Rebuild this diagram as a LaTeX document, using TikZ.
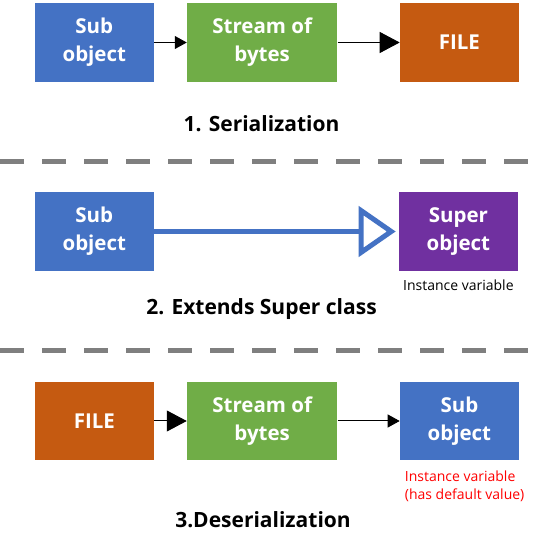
\documentclass[tikz,border=0pt]{standalone}
\usepackage{fontspec}
\setmainfont{Open Sans}
\usetikzlibrary{arrows.meta,positioning}

\definecolor{objblue}{HTML}{4472C4}
\definecolor{bytegreen}{HTML}{70AD47}
\definecolor{fileorange}{HTML}{C55A11}
\definecolor{superpurple}{HTML}{7030A0}
\definecolor{sepgray}{HTML}{7F7F7F}

\begin{document}
\begin{tikzpicture}[
    x=1pt, y=-1pt,
    box/.style={rectangle, inner sep=0pt, minimum width=119pt, minimum height=78.5pt, align=center, text=white, font=\fontsize{20.5}{28}\selectfont\bfseries},
    widebox/.style={box, minimum width=150.5pt},
    flow/.style={-{Triangle[length=12pt,width=13pt]}, line width=1pt, draw=black},
    bigflow/.style={-{Triangle[length=20pt,width=21pt]}, line width=1pt, draw=black},
    extends/.style={-{Triangle[length=37pt,width=50pt,fill=white]}, line width=5pt, draw=objblue},
    title/.style={font=\fontsize{21}{26}\selectfont\bfseries},
    note/.style={font=\fontsize{14}{18.5}\selectfont, inner sep=0pt, align=left},
    separator/.style={line width=5.3pt, draw=sepgray, dash pattern=on 24pt off 18pt}
]
\useasboundingbox (0,0) rectangle (547,540);

% 1. serialization
\node[box, fill=objblue] (subA) at (94.3,42.5) {Sub\\object};
\node[widebox, fill=bytegreen] (streamA) at (262.2,42.5) {Stream of\\bytes};
\node[box, fill=fileorange] (fileA) at (459.4,42.5) {FILE};
\draw[flow] (subA) -- (streamA);
\draw[bigflow] (streamA) -- (fileA);
\node[title] (titleA) at (261.5,123.8) {1. Serialization};

\draw[separator] (0,161.6) -- (528,161.6);

% 2. inheritance
\node[box, fill=objblue] (subB) at (94.3,231.5) {Sub\\object};
\node[box, fill=superpurple] (superB) at (458.4,231.5) {Super\\object};
\draw[extends, shorten >=3pt] (subB) -- (superB);
\node[note, below=9pt of superB] (varB) {Instance variable};
\node[title] (titleB) at (261.5,309) {2. Extends Super class};

\draw[separator] (0,350.5) -- (528,350.5);

% 3. deserialization
\node[box, fill=fileorange] (fileC) at (94.3,421) {FILE};
\node[widebox, fill=bytegreen] (streamC) at (262.2,421) {Stream of\\bytes};
\node[box, fill=objblue] (subC) at (459.4,421) {Sub\\object};
\draw[bigflow] (fileC) -- (streamC);
\draw[flow] (streamC) -- (subC);
\node[note, text=red, anchor=north west] (varC) at ([xshift=5pt,yshift=-10pt]subC.south west) {Instance variable\\(has default value)};
\node[title] (titleC) at (263,520) {3.Deserialization};

\end{tikzpicture}
\end{document}
